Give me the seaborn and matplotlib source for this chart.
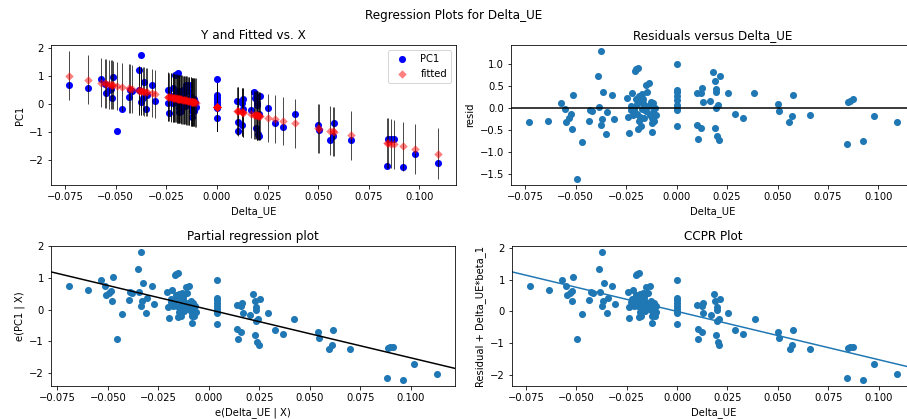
import numpy as np
import matplotlib
matplotlib.use("Agg")
import matplotlib.pyplot as plt
import seaborn as sns

# Observations: change in unemployment (regressor) and first principal component (response)
delta_ue = [
    -0.0729, -0.0638, -0.0572, -0.0551, -0.0548, -0.0531, -0.0523, -0.0515, -0.0520, -0.0495,
    -0.0470, -0.0436, -0.0429, -0.0419, -0.0387, -0.0375, -0.0383, -0.0375, -0.0367, -0.0362,
    -0.0350, -0.0345, -0.0321, -0.0308, -0.0243, -0.0240, -0.0238, -0.0227, -0.0219, -0.0215,
    -0.0206, -0.0202, -0.0199, -0.0191, -0.0194, -0.0189, -0.0186, -0.0183, -0.0178, -0.0173,
    -0.0169, -0.0164, -0.0160, -0.0153, -0.0150, -0.0145, -0.0137, -0.0128, -0.0123, -0.0123,
    -0.0120, -0.0117, -0.0112, -0.0107, -0.0104, -0.0123, -0.0186, -0.0211,
    -0.0225, -0.0210, -0.0195, -0.0180, -0.0165, -0.0155, -0.0140, -0.0130, -0.0115,
    0.0, 0.0, 0.0, 0.0, 0.0, 0.0, 0.0, 0.0, 0.0,
    0.0099, 0.0102, 0.0105, 0.0122, 0.0127, 0.0130, 0.0123, 0.0168, 0.0181, 0.0189,
    0.0192, 0.0196, 0.0197, 0.0197, 0.0202, 0.0206, 0.0209, 0.0214, 0.0253, 0.0288,
    0.0327, 0.0385, 0.0500, 0.0505, 0.0559, 0.0571, 0.0576, 0.0661, 0.0842, 0.0847,
    0.0859, 0.0875, 0.0921, 0.0979, 0.1090,
]
pc1 = [
    0.70, 0.58, 0.89, 0.71, 0.41, 0.49, 0.56, 0.98, 0.22, -0.96,
    -0.17, 0.27, 0.51, 0.47, 1.23, 1.77, 0.51, 0.08, 0.22, 0.81,
    -0.16, 0.34, 0.70, 0.13, 0.50, 0.05, -0.30, 0.20, 0.58, 0.06,
    1.06, 0.42, 1.09, 1.11, 0.06, -0.29, -0.12, 0.34, -0.24, 0.14,
    0.49, 0.26, -0.08, 0.67, 0.06, 0.48, 0.69, 0.24, 0.14, -0.46,
    -0.14, -0.01, -0.23, 0.07, -0.11, -0.26, 0.46, 0.20,
    0.29, 0.12, 0.30, -0.03, 0.35, 0.09, 0.16, -0.05, 0.18,
    0.90, 0.32, 0.26, 0.17, 0.08, -0.02, -0.09, -0.15, -0.51,
    0.10, -0.65, -0.97, -0.74, 0.17, -0.16, 0.06, -0.20, 0.44, 0.22,
    -0.85, 0.04, -0.04, -0.39, -1.06, -0.34, -1.15, 0.30, -0.14, -0.68,
    -0.83, -0.34, -0.76, -0.94, -1.28, -1.15, -0.68, -1.28, -2.21, -1.26,
    -1.24, -1.24, -2.26, -1.78, -2.09,
]

x_name = "Delta_UE"
y_name = "PC1"

x = np.asarray(delta_ue)
y = np.asarray(pc1)
n = len(x)

# Ordinary least squares with a constant
X = np.column_stack([np.ones(n), x])
beta, *_ = np.linalg.lstsq(X, y, rcond=None)
fitted = X @ beta
resid = y - fitted
sigma = np.sqrt(resid @ resid / (n - 2))
leverage = np.einsum("ij,jk,ik->i", X, np.linalg.inv(X.T @ X), X)
t_crit = 1.982
half_width = t_crit * sigma * np.sqrt(1 + leverage)
pred_lo, pred_hi = fitted - half_width, fitted + half_width

W, H = 907, 419
fig = plt.figure(figsize=(W / 72, H / 72), dpi=72)


def box(left, top, right, bottom):
    return [left / W, 1 - bottom / H, (right - left) / W, (bottom - top) / H]


ax1 = fig.add_axes(box(51, 45, 456, 185))
ax2 = fig.add_axes(box(511, 45, 915, 185))
ax3 = fig.add_axes(box(51, 246, 455, 386))
ax4 = fig.add_axes(box(512, 246, 915, 386))

dot = 50

# Y and fitted vs X with prediction intervals
sns.scatterplot(x=x, y=y, ax=ax1, color="b", s=dot, linewidth=0, label=y_name, zorder=2)
ax1.vlines(x, pred_lo, pred_hi, linewidth=1, color="k", alpha=0.7, zorder=2)
sns.scatterplot(x=x, y=fitted, ax=ax1, color="r", marker="D", s=36, linewidth=0,
                alpha=0.5, label="fitted", zorder=3)
ax1.set_title("Y and Fitted vs. X", fontsize="large")
ax1.set_xlabel(x_name)
ax1.set_ylabel(y_name)
ax1.legend(loc="upper right")

# Residuals
sns.scatterplot(x=x, y=resid, ax=ax2, color="C0", s=dot, linewidth=0)
ax2.axhline(0, color="black")
ax2.set_title("Residuals versus %s" % x_name, fontsize="large")
ax2.set_xlabel(x_name)
ax2.set_ylabel("resid")

# Partial regression
px = x - x.mean()
py = y - y.mean()
sns.scatterplot(x=px, y=py, ax=ax3, color="C0", s=dot, linewidth=0)
xl = ax3.get_xlim()
line_x = np.array(xl)
sns.lineplot(x=line_x, y=beta[1] * line_x, ax=ax3, color="k", linewidth=1.5)
ax3.set_xlim(xl)
ax3.set_title("Partial regression plot", fontsize="large")
ax3.set_xlabel("e(%s | X)" % x_name)
ax3.set_ylabel("e(%s | X)" % y_name)

# Component plus residual
cy = resid + beta[1] * x
sns.scatterplot(x=x, y=cy, ax=ax4, color="C0", s=dot, linewidth=0)
xl = ax4.get_xlim()
line_x = np.array(xl)
sns.lineplot(x=line_x, y=beta[1] * line_x, ax=ax4, color="C0", linewidth=1.5)
ax4.set_xlim(xl)
ax4.set_title("CCPR Plot", fontsize="large")
ax4.set_xlabel(x_name)
ax4.set_ylabel("Residual + %s*beta_1" % x_name)

fig.suptitle("Regression Plots for %s" % x_name, fontsize="large", y=1 - 16 / H, va="center")

fig.savefig("out.png", dpi=72)
